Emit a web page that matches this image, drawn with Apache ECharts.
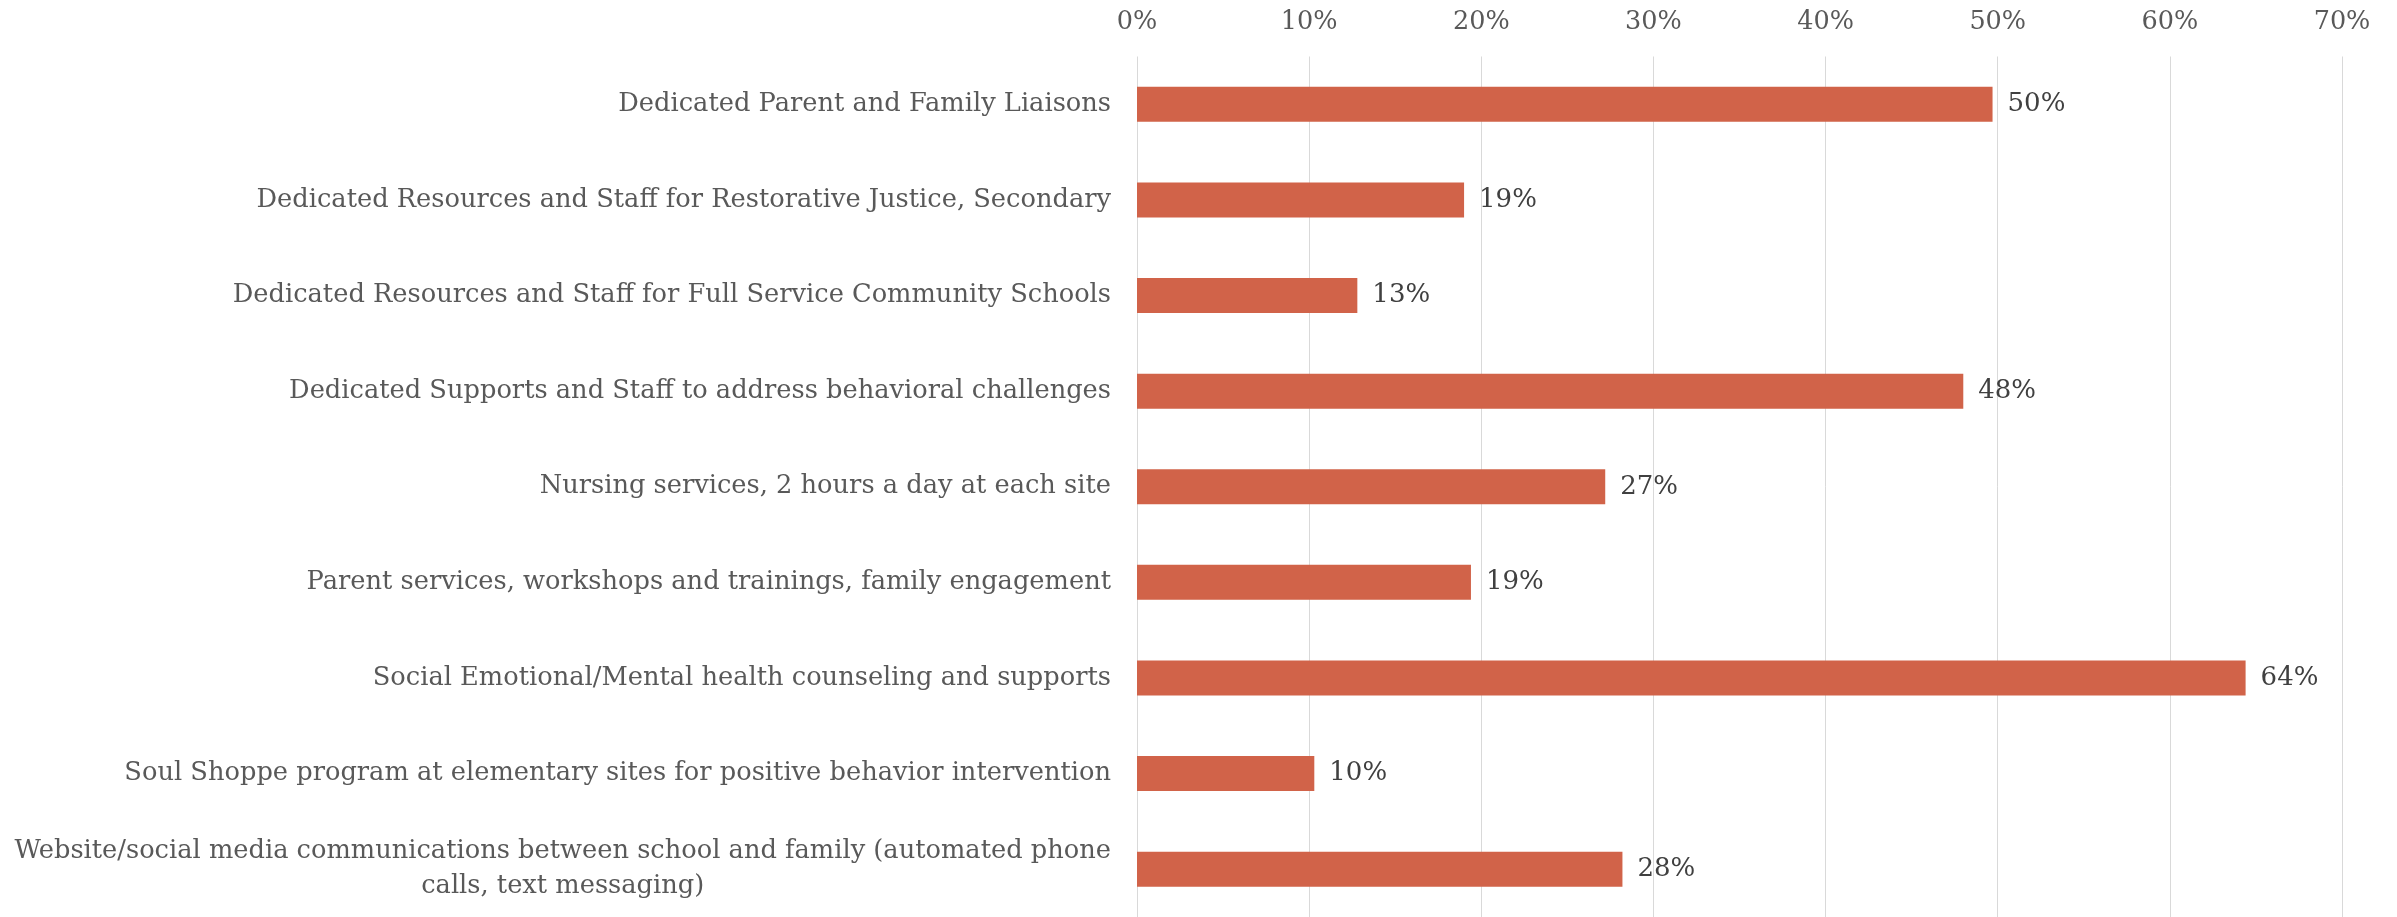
<!DOCTYPE html>
<html>
<head>
<meta charset="utf-8">
<script src="https://cdn.jsdelivr.net/npm/echarts@6/dist/echarts.min.js"></script>
<style>
html,body{margin:0;padding:0;background:#fff;}
#chart{width:2397px;height:917px;}
</style>
</head>
<body>
<div id="chart"></div>
<script>
const categories = [
  "Dedicated Parent and Family Liaisons",
  "Dedicated Resources and Staff for Restorative Justice, Secondary",
  "Dedicated Resources and Staff for Full Service Community Schools",
  "Dedicated Supports and Staff to address behavioral challenges",
  "Nursing services, 2 hours a day at each site",
  "Parent services, workshops and trainings, family engagement",
  "Social Emotional/Mental health counseling and supports",
  "Soul Shoppe program at elementary sites for positive behavior intervention",
  "Website/social media communications between school and family (automated phone\ncalls, text messaging)"
];
const values = [49.7, 19.0, 12.8, 48.0, 27.2, 19.4, 64.4, 10.3, 28.2];
const axisMin = 0, axisMax = 70, axisStep = 10;

const FONT = "'DejaVu Serif', Georgia, serif";
const chart = echarts.init(document.getElementById('chart'), null, {renderer: 'canvas'});
chart.setOption({
  backgroundColor: '#ffffff',
  animation: false,
  grid: {left: 1137, right: 55, top: 56.5, height: 866, containLabel: false},
  xAxis: {
    type: 'value',
    position: 'top',
    min: axisMin, max: axisMax, interval: axisStep,
    axisLine: {show: false},
    axisTick: {show: false},
    splitLine: {show: true, lineStyle: {color: '#D9D9D9', width: 1}},
    axisLabel: {
      formatter: '{value}%',
      fontFamily: FONT, fontSize: 25.5, color: '#595959', margin: 21
    }
  },
  yAxis: {
    type: 'category',
    inverse: true,
    data: categories,
    axisLine: {show: false},
    axisTick: {show: false},
    axisLabel: {
      fontFamily: FONT, fontSize: 25.7, color: '#595959', margin: 26,
      lineHeight: 35,
      formatter: function (v) {
        if (v.indexOf('\n') >= 0) {
          return v.split('\n').map(function (l) { return '{c|' + l + '}'; }).join('\n');
        }
        return v;
      },
      rich: {
        c: {fontFamily: FONT, fontSize: 25.7, color: '#595959', align: 'center', lineHeight: 35}
      }
    }
  },
  series: [{
    type: 'bar',
    data: values,
    barWidth: 35,
    itemStyle: {color: '#D16349'},
    label: {
      show: true,
      position: 'right',
      distance: 15,
      fontFamily: FONT, fontSize: 26, color: '#404040',
      formatter: function (p) { return Math.round(p.value) + '%'; }
    }
  }]
});
</script>
</body>
</html>
